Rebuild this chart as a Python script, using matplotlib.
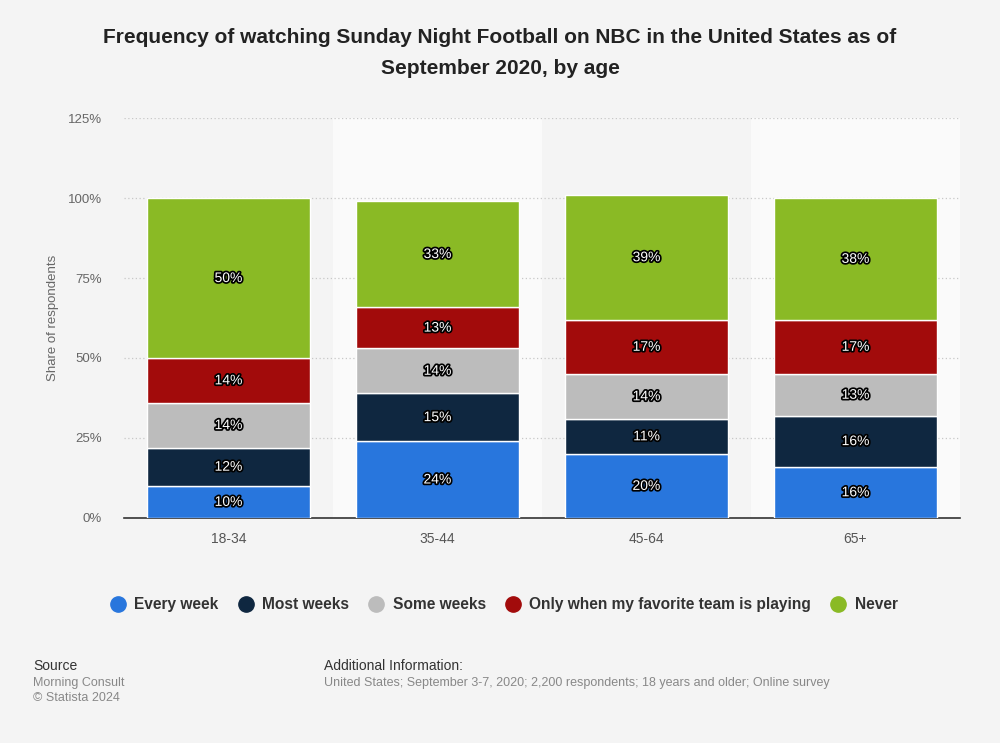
import matplotlib
matplotlib.use("Agg")
import matplotlib.pyplot as plt
import matplotlib.patheffects as pe
from matplotlib.lines import Line2D
import numpy as np

ages = ["18-34", "35-44", "45-64", "65+"]
series = ["Every week", "Most weeks", "Some weeks",
          "Only when my favorite team is playing", "Never"]
every_week = [10, 24, 20, 16]
most_weeks = [12, 15, 11, 16]
some_weeks = [14, 14, 14, 13]
favorite_team = [14, 13, 17, 17]
never = [50, 33, 39, 38]
colors = ["#2876dd", "#0f2740", "#bcbcbc", "#a20b0b", "#8aba25"]
yticks = [0, 25, 50, 75, 100, 125]

plt.rcParams['font.family'] = ['Liberation Sans', 'DejaVu Sans']
bg = "#f4f4f4"
fig = plt.figure(figsize=(10, 7.43), dpi=100, facecolor=bg)
ax = fig.add_axes([0.124, 0.303, 0.836, 0.538])
ax.set_facecolor(bg)

x = np.arange(len(ages))
for i in x:
    if i % 2 == 1:
        ax.axvspan(i - 0.5, i + 0.5, color="#fafafa", zorder=0, lw=0)

bottom = np.zeros(len(ages))
for name, vals, c in zip(series, [every_week, most_weeks, some_weeks, favorite_team, never], colors):
    vals = np.array(vals, dtype=float)
    ax.bar(x, vals, 0.78, bottom=bottom, color=c, edgecolor="white", linewidth=1, zorder=3)
    for xi, b, v in zip(x, bottom, vals):
        ax.text(xi, b + v / 2, f"{int(v)}%", ha="center", va="center", color="white",
                fontsize=10, zorder=4,
                path_effects=[pe.withStroke(linewidth=2.5, foreground="black")])
    bottom += vals

ax.set_xlim(-0.5, 3.5)
ax.set_ylim(0, 125)
ax.set_yticks(yticks)
ax.set_yticklabels([f"{t}%" for t in yticks])
ax.set_xticks(x)
ax.set_xticklabels(ages)
ax.yaxis.grid(True, linestyle=(0, (1, 2)), color="#c8c8c8", lw=0.9, zorder=1)
ax.tick_params(axis="y", length=0, pad=16, labelsize=9.5, labelcolor="#666666")
ax.tick_params(axis="x", length=0, pad=10, labelsize=10, labelcolor="#555555")
for s in ["top", "right", "left"]:
    ax.spines[s].set_visible(False)
ax.spines["bottom"].set_color("#333333")
ax.spines["bottom"].set_linewidth(1.2)
ax.set_ylabel("Share of respondents", color="#666666", fontsize=9.5, labelpad=6)

fig.text(0.5, 0.962, "Frequency of watching Sunday Night Football on NBC in the United States as of\nSeptember 2020, by age",
         ha="center", va="top", fontsize=15, fontweight="bold", color="#222222", linespacing=1.8)

handles = [Line2D([], [], marker="o", ls="", markersize=11, markerfacecolor=c, markeredgecolor=c)
           for c in colors]
fig.legend(handles, series, loc="center", bbox_to_anchor=(0.5, 0.186), ncol=5, frameon=False,
           handletextpad=0.05, columnspacing=0.75, prop={"size": 11.2, "weight": "bold"},
           labelcolor="#333333")

fig.text(0.033, 0.103, "Source", fontsize=10, color="#333333", va="center")
fig.text(0.033, 0.081, "Morning Consult", fontsize=9, color="#888888", va="center")
fig.text(0.033, 0.061, "© Statista 2024", fontsize=9, color="#888888", va="center")
fig.text(0.324, 0.103, "Additional Information:", fontsize=10, color="#333333", va="center")
fig.text(0.324, 0.081, "United States; September 3-7, 2020; 2,200 respondents; 18 years and older; Online survey",
         fontsize=9, color="#888888", va="center")

fig.savefig("out.png", dpi=100, facecolor=bg)
